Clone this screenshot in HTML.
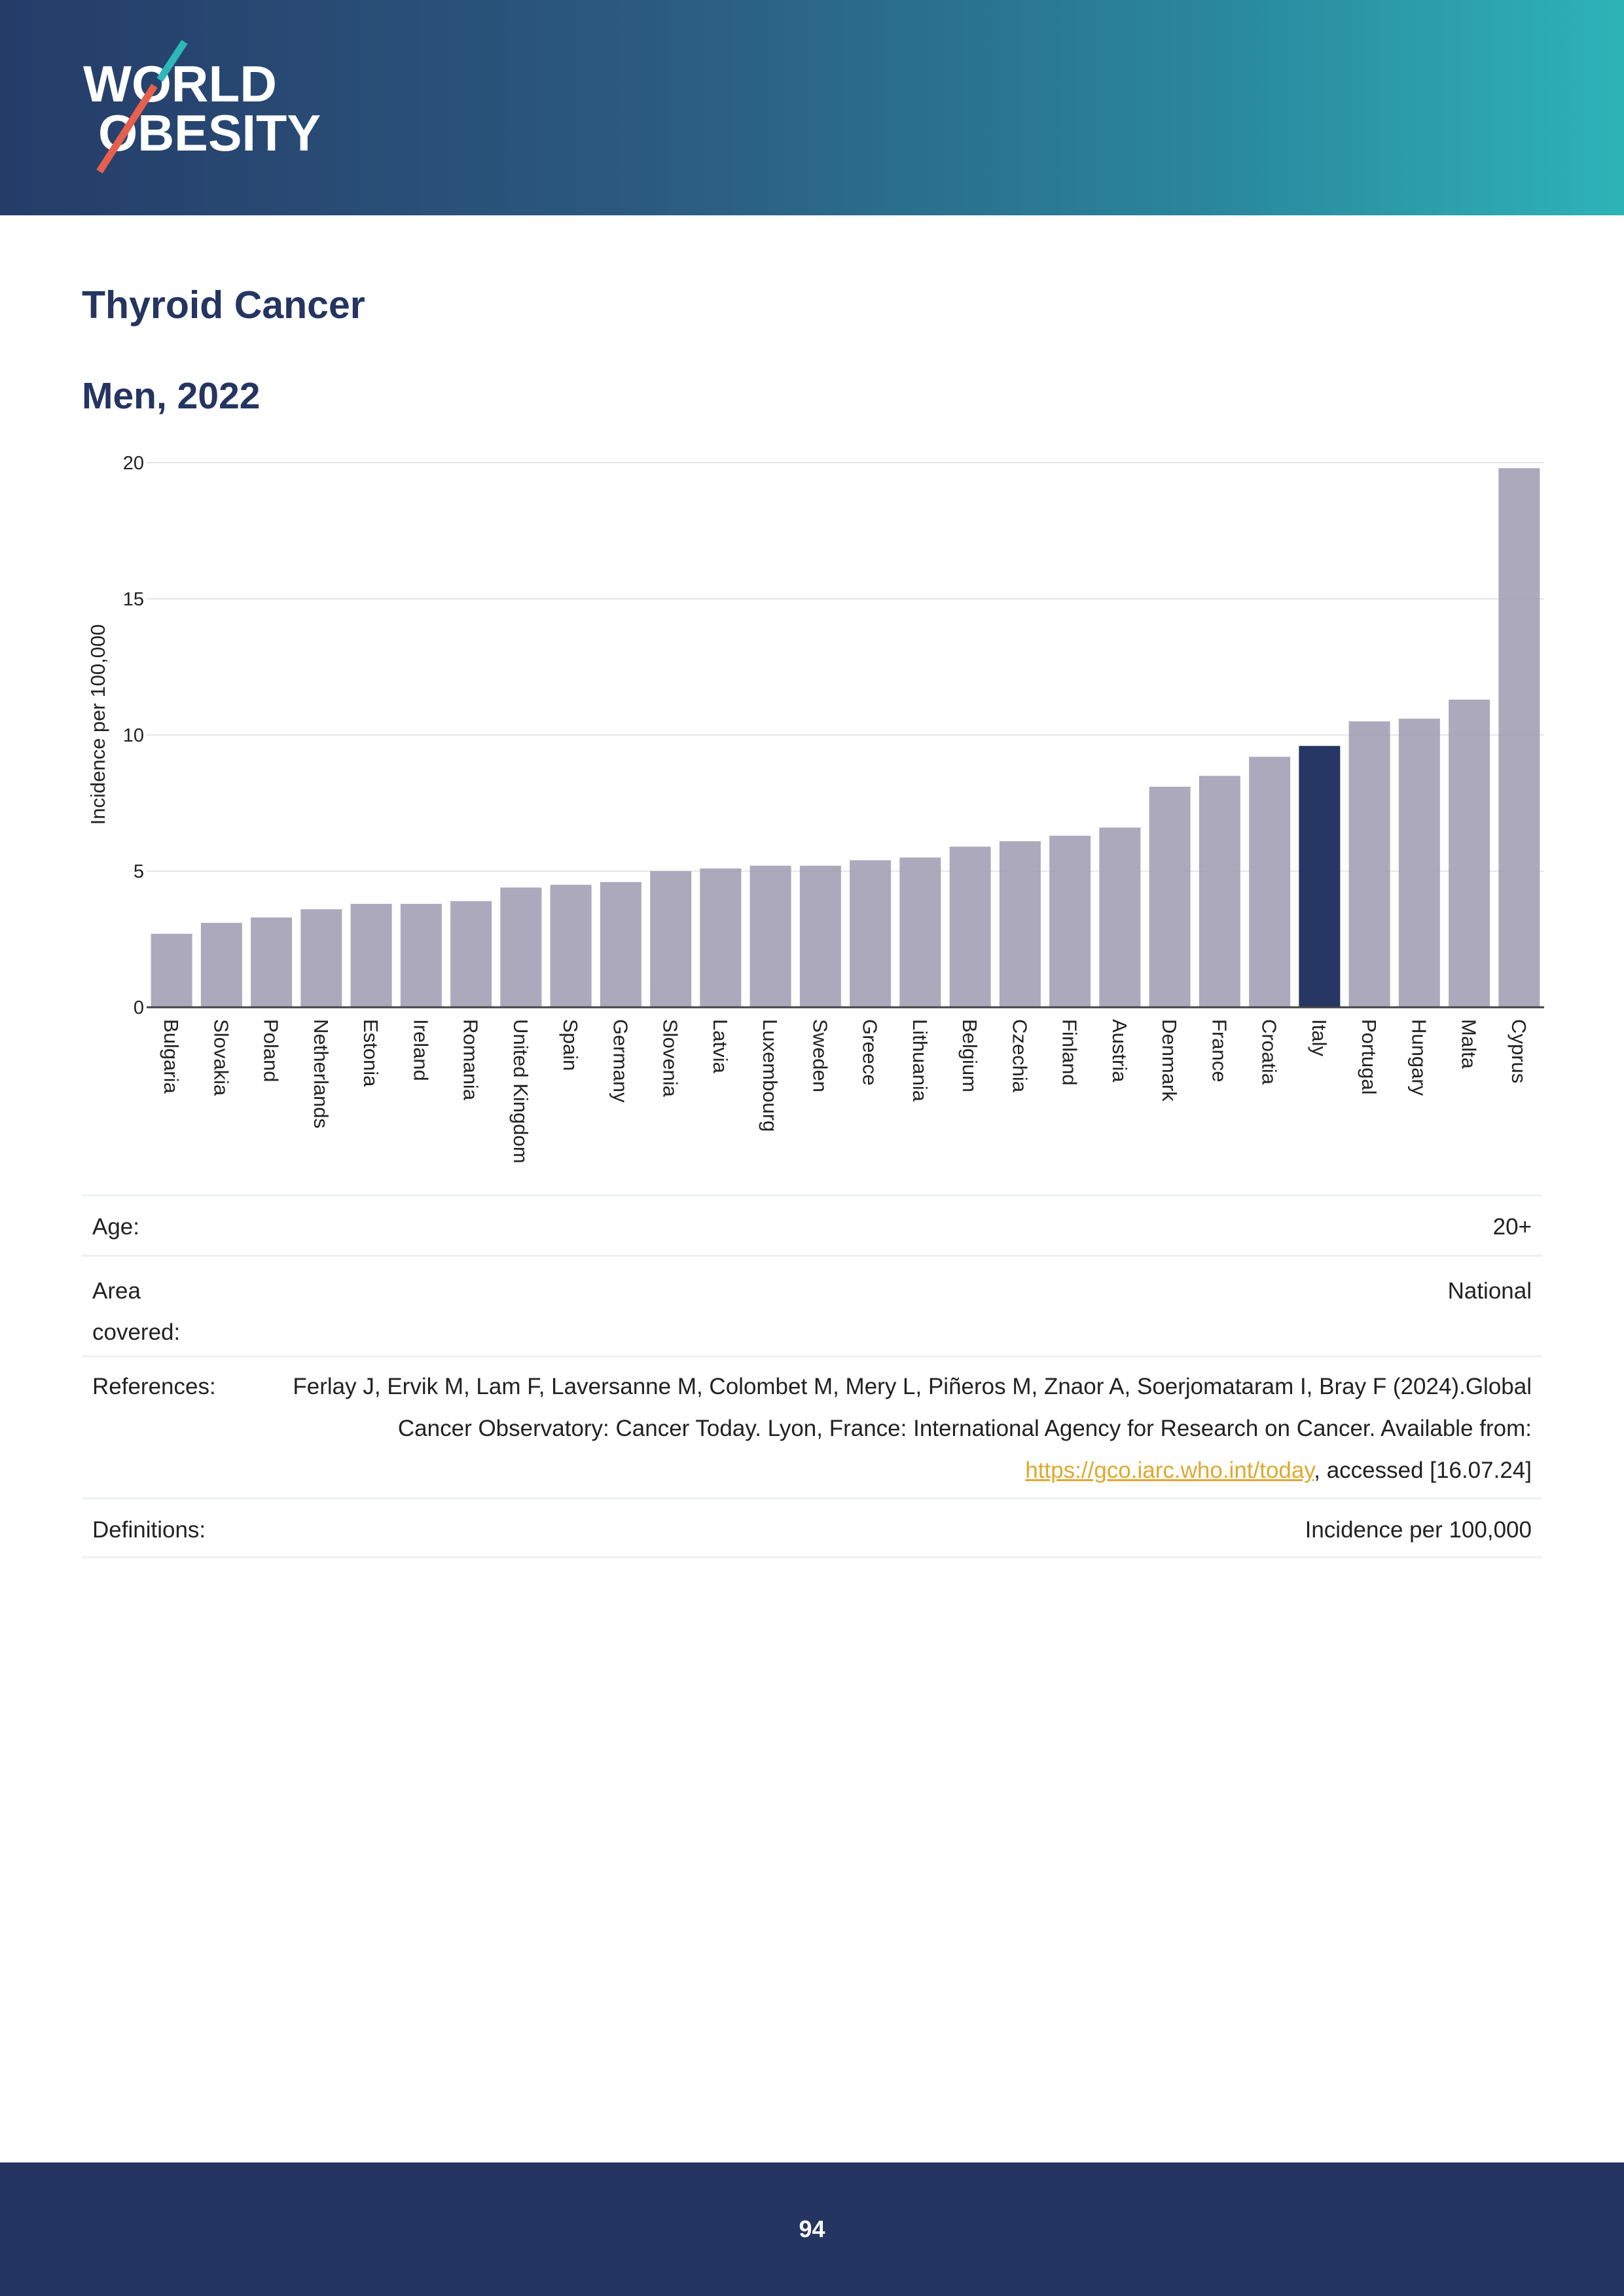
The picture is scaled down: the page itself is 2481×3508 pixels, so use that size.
<!DOCTYPE html>
<html><head><meta charset="utf-8"><style>
body{margin:0;width:2481px;height:3508px;position:relative;background:#fff;font-family:"Liberation Sans",sans-serif;overflow:hidden}
.abs{position:absolute}
</style></head><body>
<div class="abs" style="left:0;top:0;width:2481px;height:329px;background:linear-gradient(90deg,#253c69 0%,#2b5a80 40%,#2a879e 75%,#2db3b6 100%)"></div>
<svg class="abs" style="left:0;top:0" width="600" height="329">
<text x="127" y="155" font-family="Liberation Sans" font-weight="bold" font-size="78" fill="#fff" textLength="296" lengthAdjust="spacingAndGlyphs">WORLD</text>
<text x="150" y="230" font-family="Liberation Sans" font-weight="bold" font-size="78" fill="#fff" textLength="340" lengthAdjust="spacingAndGlyphs">OBESITY</text>
<line x1="282" y1="64" x2="244" y2="122" stroke="#2cb8b8" stroke-width="11"/>
<line x1="236" y1="131" x2="152" y2="262" stroke="#e5604e" stroke-width="11"/>
</svg>
<div class="abs" style="left:125px;top:432px;font-size:59px;font-weight:bold;color:#253561">Thyroid Cancer</div>
<div class="abs" style="left:125px;top:572px;font-size:57px;font-weight:bold;color:#253561">Men, 2022</div>
<svg class="abs" id="chart" style="left:0;top:0" width="2481" height="1820"></svg>
<script>
const categories=["Bulgaria","Slovakia","Poland","Netherlands","Estonia","Ireland","Romania","United Kingdom","Spain","Germany","Slovenia","Latvia","Luxembourg","Sweden","Greece","Lithuania","Belgium","Czechia","Finland","Austria","Denmark","France","Croatia","Italy","Portugal","Hungary","Malta","Cyprus"];
const values=[2.7,3.1,3.3,3.6,3.8,3.8,3.9,4.4,4.5,4.6,5.0,5.1,5.2,5.2,5.4,5.5,5.9,6.1,6.3,6.6,8.1,8.5,9.2,9.6,10.5,10.6,11.3,19.8];
const yTicks=[0,5,10,15,20];
const highlight="Italy";
const svg=document.getElementById('chart');
const NS="http://www.w3.org/2000/svg";
const y0=1539,y1=707,xL=224,xR=2359;
function yScale(v){return y0-(v/20)*(y0-y1);}
const step=(xR-xL)/categories.length;
function xCenter(i){return xL+step*(i+0.5);}
const bw=63;
function mk(t,a){const e=document.createElementNS(NS,t);for(const k in a)e.setAttribute(k,a[k]);svg.appendChild(e);return e;}
yTicks.forEach(t=>{
  if(t>0){const g=mk('line',{x1:xL,x2:xR,y1:yScale(t),y2:yScale(t),stroke:'#e6e6e6','stroke-width':2});
  
  }
  const l=mk('text',{x:220,y:yScale(t)+10,'text-anchor':'end','font-size':29,fill:'#222','font-family':'Liberation Sans'});
  l.textContent=t;
  
  
});
categories.forEach((c,i)=>{
  const v=values[i];
  const r=mk('rect',{x:xCenter(i)-bw/2,y:yScale(v),width:bw,height:y0-yScale(v),fill:c===highlight?'#263763':'#9a96ae','fill-opacity':c===highlight?1:0.82});
  
  
  const t=mk('text',{x:0,y:0,'font-size':31,fill:'#222','font-family':'Liberation Sans',transform:`translate(${xCenter(i)-11},1557) rotate(90)`});
  t.textContent=c;
  
  
});
const ax=mk('line',{x1:xL,x2:xR,y1:y0,y2:y0,stroke:'#444','stroke-width':3});


const yt=mk('text',{x:0,y:0,'font-size':31,fill:'#222','font-family':'Liberation Sans','text-anchor':'middle',transform:'translate(160,1107) rotate(-90)'});
yt.textContent='Incidence per 100,000';


</script>
<div style="position:absolute;left:125px;top:1825px;width:2231px;font-size:35px;color:#222">
<div style="border-top:3px solid #eef0f2"></div>
<div style="position:absolute;top:0;height:92px;width:100%"><span style="position:absolute;left:16px;top:30px">Age:</span><span style="position:absolute;right:16px;top:30px">20+</span></div>
<div class="abs" style="top:92px;width:100%;border-top:3px solid #eef0f2"></div>
<div style="position:absolute;top:92px;width:100%"><span style="position:absolute;left:16px;top:24px;line-height:63px">Area<br>covered:</span><span style="position:absolute;right:16px;top:24px;line-height:63px">National</span></div>
<div class="abs" style="top:246px;width:100%;border-top:3px solid #eef0f2"></div>
<div style="position:absolute;top:246px;width:100%"><span style="position:absolute;left:16px;top:16px;line-height:63px">References:</span><span style="position:absolute;right:16px;top:16px;line-height:64px;text-align:right;width:1950px">Ferlay J, Ervik M, Lam F, Laversanne M, Colombet M, Mery L, Piñeros M, Znaor A, Soerjomataram I, Bray F (2024).Global Cancer Observatory: Cancer Today. Lyon, France: International Agency for Research on Cancer. Available from: <span style="color:#e0a82e;text-decoration:underline">https://gco.iarc.who.int/today</span>, accessed [16.07.24]</span></div>
<div class="abs" style="top:463px;width:100%;border-top:3px solid #eef0f2"></div>
<div style="position:absolute;top:463px;width:100%"><span style="position:absolute;left:16px;top:30px">Definitions:</span><span style="position:absolute;right:16px;top:30px">Incidence per 100,000</span></div>
<div class="abs" style="top:553px;width:100%;border-top:3px solid #eef0f2"></div>
</div>
<div class="abs" style="left:0;top:3304px;width:2481px;height:204px;background:#253561"></div>
<div class="abs" style="left:0;top:3385px;width:2481px;text-align:center;font-size:36px;font-weight:bold;color:#fff">94</div>
</body></html>
